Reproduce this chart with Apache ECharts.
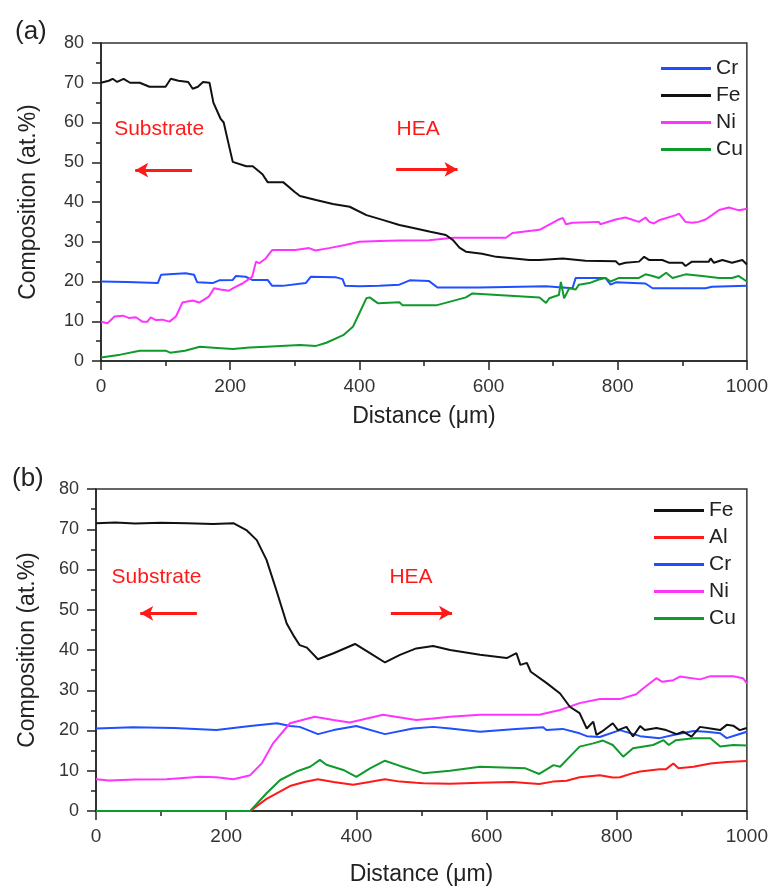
<!DOCTYPE html>
<html>
<head>
<meta charset="utf-8">
<script src="https://cdn.jsdelivr.net/npm/echarts@6/dist/echarts.min.js"></script>
<style>
html,body{margin:0;padding:0;background:#fff;}
#chart{width:771px;height:887px;}
</style>
</head>
<body>
<div id="chart"></div>
<script>
// ---------- Data ----------
const xTicks = [0, 200, 400, 600, 800, 1000];
const yTicks = [0, 10, 20, 30, 40, 50, 60, 70, 80];

// Panel (a)
const aFeX = [0,12,18,25,35,45,60,75,100,108,120,135,142,150,158,168,174,185,190,197,204,225,235,250,258,282,300,308,333,359,385,411,436,462,482,510,534,545,555,565,590,612,640,663,679,715,750,797,802,812,833,841,849,869,880,900,905,915,941,944,949,962,977,993,1000];
const aFeY = [70,70.5,71,70.2,71,70,70,69,69,71,70.5,70.2,68.5,69,70.2,70,65,61,60,55,50.1,49,49,47,45,45,42.5,41.5,40.5,39.5,38.8,36.7,35.5,34.2,33.5,32.5,31.7,30.4,28.5,27.5,27,26.2,25.8,25.4,25.4,25.8,25.2,25.1,24.3,24.7,25,26.2,25.4,25.4,24.7,24.7,23.9,25,25,25.8,24.7,25.4,24.7,25.4,24.3];

const aNiX = [0,10,21,34,44,54,64,72,77,85,95,106,116,126,142,152,167,175,185,198,209,219,229,234,240,245,255,265,301,322,332,353,378,400,431,462,508,545,627,637,679,709,715,720,730,771,773,797,812,833,843,849,856,864,890,895,905,915,925,936,946,957,972,988,1000];
const aNiY = [9.9,9.5,11.2,11.4,10.8,11,9.9,9.9,11,10.3,10.4,9.9,11.2,14.7,15.2,14.7,16.2,18.3,18,17.7,18.7,19.5,20.6,21.2,25,24.6,25.8,27.9,27.9,28.4,27.8,28.4,29.2,30,30.2,30.3,30.4,31,31,32.2,33,35.6,36,34.4,34.8,35,34.4,35.6,36.1,35,36.1,35,34.6,35.4,36.7,37.1,35,34.8,35,35.6,36.7,38,38.6,37.9,38.3];

const aCrX = [0,40,88,93,131,144,149,173,183,204,209,224,234,258,265,281,317,325,363,374,378,400,431,462,478,508,521,586,689,730,735,781,789,797,843,854,936,946,1000];
const aCrY = [20,19.9,19.6,21.7,22.1,21.7,19.8,19.6,20.3,20.4,21.4,21.2,20.4,20.4,18.9,18.9,19.6,21.2,21.1,20.6,18.9,18.8,18.9,19.2,20.3,20.1,18.5,18.5,18.8,18.3,20.9,20.9,19.2,19.8,19.5,18.3,18.3,18.7,18.9];

const aCuX = [0,30,60,100,107,130,153,180,204,230,256,308,333,349,375,390,400,411,416,429,462,467,519,565,575,627,679,689,694,709,712,717,725,735,740,756,771,781,789,802,833,843,854,864,875,885,905,931,957,977,987,1000];
const aCuY = [0.9,1.6,2.6,2.6,2.1,2.6,3.6,3.3,3,3.4,3.6,4,3.8,4.6,6.5,8.6,12,15.8,16,14.5,14.8,14,14,16,17,16.5,16,14.6,15.8,16.6,19.9,15.8,18.3,18,19.2,19.6,20.5,20.9,20,20.9,20.9,21.8,21.4,20.9,22.2,20.9,21.8,21.4,20.9,20.9,21.4,20];

// Panel (b)
const bFeX = [0,30,60,100,140,180,211,231,247,262,277,293,303,313,324,341,365,398,421,444,467,492,518,544,590,631,646,652,662,668,693,713,728,743,754,764,769,777,794,802,815,825,836,843,861,876,892,902,915,928,944,959,969,979,989,1000];
const bFeY = [71.5,71.7,71.4,71.6,71.5,71.3,71.5,69.8,67.3,62.4,54.9,46.6,43.7,41.2,40.6,37.7,39.2,41.5,39.2,36.9,38.8,40.4,41,40,38.8,38,39.2,36.3,36.8,34.6,31.7,29.2,25.9,24.3,20.5,22.2,18.9,19.7,21.8,20.1,20.9,18.5,21.1,20.1,20.6,20.1,19.1,19.7,18.5,20.9,20.5,20.1,21.4,21.2,20.1,20.6];

const bAlX = [0,237,262,298,320,341,365,395,420,444,467,492,503,544,590,640,681,702,723,743,774,794,805,825,836,866,876,887,895,918,944,969,1000];
const bAlY = [0,0,3,6.2,7.2,7.9,7.2,6.5,7.2,7.9,7.3,7,6.9,6.8,7,7.2,6.7,7.3,7.5,8.4,8.9,8.3,8.4,9.4,9.8,10.4,10.4,11.8,10.6,11,11.8,12.2,12.4];

const bCrX = [0,57,120,185,237,278,298,313,341,365,400,444,487,518,544,590,640,687,692,717,743,754,774,805,836,866,887,918,938,959,969,984,1000];
const bCrY = [20.5,20.8,20.6,20.1,21.1,21.8,21.1,20.9,19.1,20.1,21.1,19.1,20.5,20.9,20.5,19.7,20.3,20.8,20.1,20.4,19.3,18.6,18.4,20.1,18.6,18.1,18.9,19.9,19.7,19.3,18.1,18.9,19.7];

const bNiX = [0,20,60,108,160,185,211,237,255,272,298,336,365,390,441,492,518,544,590,681,713,743,774,805,830,841,861,870,887,897,928,944,979,994,1000];
const bNiY = [7.9,7.6,7.8,7.9,8.5,8.4,7.9,8.9,11.9,16.8,21.8,23.4,22.6,22,23.9,22.6,23,23.4,23.9,23.9,25.1,26.8,27.8,27.8,29,30.5,33,32.1,32.5,33.4,32.7,33.5,33.5,33,31.7];

const bCuX = [0,237,262,283,308,329,344,354,380,400,421,444,467,503,544,590,660,681,703,713,728,743,764,779,794,810,825,856,872,880,891,918,944,959,979,1000];
const bCuY = [0,0,4.4,7.7,9.8,11,12.7,11.5,10.2,8.5,10.6,12.5,11.2,9.4,10,11,10.6,9.2,11.4,11,13.5,16,16.8,17.5,16.4,13.5,15.6,16.4,17.6,16.4,17.6,18.1,18.1,16,16.4,16.3];

// Annotations (data coordinates)
const annTextA = [{t:'Substrate', x:90, y:58.4}, {t:'HEA', x:491, y:58.4}];
const annArrowA = [{from:141, to:53, y:48}, {from:457, to:552, y:48.2}];
const annTextB = [{t:'Substrate', x:93, y:58}, {t:'HEA', x:484, y:58}];
const annArrowB = [{from:155, to:68, y:49.1}, {from:453, to:547, y:49.2}];

const colors = {Cr:'#1f4fff', Fe:'#111111', Ni:'#ff33ff', Cu:'#119a2c', Al:'#ff1a1a'};
const FONT = 'Liberation Sans, Arial, sans-serif';

function pairs(xs, ys){ return xs.map((x,i)=>[x, ys[i]]); }

function lineSeries(name, xs, ys, idx, extra){
  return Object.assign({
    name: name, type:'line', xAxisIndex: idx, yAxisIndex: idx,
    data: pairs(xs, ys), showSymbol:false, symbol:'none', smooth:false,
    lineStyle:{color: colors[name], width:2}, itemStyle:{color: colors[name]},
    silent:true, animation:false, z:3
  }, extra || {});
}

function annotations(texts, arrows){
  return {
    markPoint: {
      silent:true, animation:false,
      symbol:'circle', symbolSize:1, itemStyle:{color:'rgba(0,0,0,0)'},
      label:{show:true, position:'inside', color:'#ff1a1a', fontSize:21, fontFamily:FONT,
             formatter: p => p.name},
      data: texts.map(a => ({name:a.t, coord:[a.x, a.y]}))
    },
    markLine: {
      silent:true, animation:false, symbolSize:[11,13],
      lineStyle:{color:'#ff1a1a', width:3, type:'solid'},
      label:{show:false},
      data: arrows.map(a => [
        {coord:[a.from, a.y], symbol:'none'},
        {coord:[a.to, a.y], symbol:'arrow'}
      ])
    }
  };
}

function xAxisCfg(idx, nameGap){
  return {
    type:'value', gridIndex: idx, min:0, max:1000, interval:200,
    axisLine:{show:true, onZero:false, lineStyle:{color:'#222', width:1.5}},
    axisTick:{show:true, inside:false, length:9, lineStyle:{color:'#222', width:1.5}},
    minorTick:{show:true, splitNumber:2, length:5, lineStyle:{color:'#222', width:1.5}},
    splitLine:{show:false},
    axisLabel:{fontSize:19, color:'#333', margin:16, fontFamily:FONT,
               formatter: v => xTicks.indexOf(v) >= 0 ? String(v) : ''},
    name:'Distance (\u03bcm)', nameLocation:'middle', nameGap: nameGap,
    nameTextStyle:{fontSize:23, color:'#222', fontFamily:FONT}
  };
}
function yAxisCfg(idx, nameGap){
  return {
    type:'value', gridIndex: idx, min:0, max:80, interval:10,
    axisLine:{show:true, onZero:false, lineStyle:{color:'#222', width:1.5}},
    axisTick:{show:true, inside:false, length:9, lineStyle:{color:'#222', width:1.5}},
    minorTick:{show:true, splitNumber:2, length:5, lineStyle:{color:'#222', width:1.5}},
    splitLine:{show:false},
    axisLabel:{fontSize:18, color:'#333', margin:17, fontFamily:FONT,
               formatter: v => yTicks.indexOf(v) >= 0 ? String(v) : ''},
    name:'Composition (at.%)', nameLocation:'middle', nameGap: nameGap,
    nameTextStyle:{fontSize:23, color:'#222', fontFamily:FONT}
  };
}

const chart = echarts.init(document.getElementById('chart'), null, {renderer:'canvas'});

const legendCommon = {
  orient:'vertical', icon:'rect', itemWidth:50, itemHeight:3, itemGap:6,
  selectedMode:false,
  textStyle:{fontSize:21, color:'#222', fontFamily:FONT, padding:[0,0,0,0]}
};

chart.setOption({
  backgroundColor:'#ffffff',
  animation:false,
  textStyle:{fontFamily:FONT},
  title:[
    {text:'(a)', left:10, top:14, textStyle:{fontSize:26, fontWeight:'normal', color:'#222', fontFamily:FONT}},
    {text:'(b)', left:7, top:461, textStyle:{fontSize:26, fontWeight:'normal', color:'#222', fontFamily:FONT}}
  ],
  grid:[
    {left:101, top:43, width:647, height:318, show:true, borderColor:'#333', borderWidth:1.5, backgroundColor:'transparent', containLabel:false},
    {left:96, top:489, width:651, height:322, show:true, borderColor:'#333', borderWidth:1.5, backgroundColor:'transparent', containLabel:false}
  ],
  xAxis:[xAxisCfg(0, 44), xAxisCfg(1, 52)],
  yAxis:[yAxisCfg(0, 61), yAxisCfg(1, 57)],
  legend:[
    Object.assign({left:656, top:53, data:['Cr','Fe','Ni','Cu']}, legendCommon),
    Object.assign({left:649, top:495, data:['Fe','Al','Cr','Ni','Cu']}, legendCommon)
  ],
  series:[
    lineSeries('Cr', aCrX, aCrY, 0),
    lineSeries('Ni', aNiX, aNiY, 0),
    lineSeries('Cu', aCuX, aCuY, 0),
    lineSeries('Fe', aFeX, aFeY, 0, annotations(annTextA, annArrowA)),
    lineSeries('Al', bAlX, bAlY, 1),
    lineSeries('Cr', bCrX, bCrY, 1),
    lineSeries('Ni', bNiX, bNiY, 1),
    lineSeries('Cu', bCuX, bCuY, 1),
    lineSeries('Fe', bFeX, bFeY, 1, annotations(annTextB, annArrowB))
  ]
});
</script>
</body>
</html>
